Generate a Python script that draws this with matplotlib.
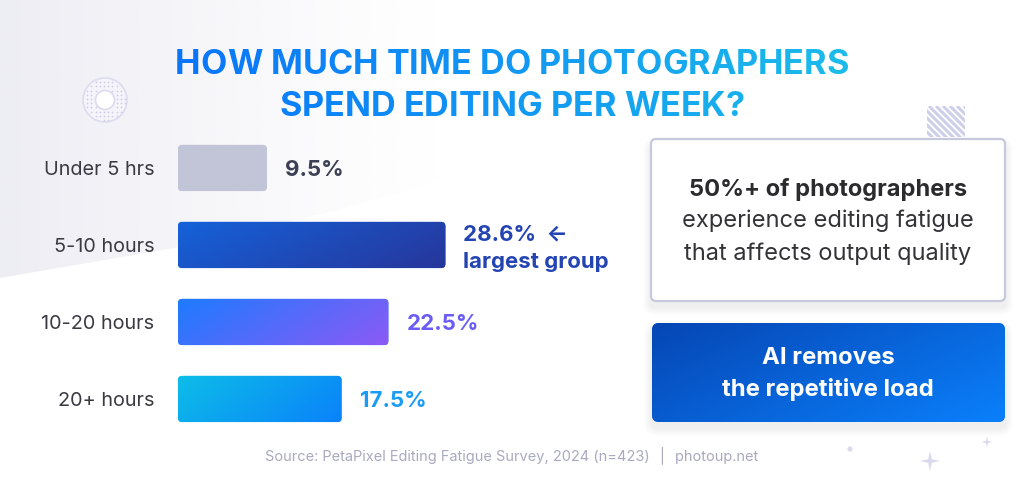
import numpy as np
import matplotlib
matplotlib.use("Agg")
import matplotlib.pyplot as plt
from matplotlib.patches import FancyBboxPatch, Polygon, Circle, Rectangle
from matplotlib.colors import to_rgb
from matplotlib.font_manager import FontProperties

plt.rcParams['font.family'] = ['Inter', 'DejaVu Sans']

# ---------------- data ----------------
categories = ["Under 5 hrs", "5-10 hours", "10-20 hours", "20+ hours"]
shares = [9.5, 28.6, 22.5, 17.5]
value_labels = ["9.5%", "28.6%  \u2190", "22.5%", "17.5%"]
title_lines = ["HOW MUCH TIME DO PHOTOGRAPHERS", "SPEND EDITING PER WEEK?"]
callout_bold = "50%+ of photographers"
callout_rest = ["experience editing fatigue", "that affects output quality"]
cta_lines = ["AI removes", "the repetitive load"]
source = "Source: PetaPixel Editing Fatigue Survey, 2024 (n=423)  \u2502  photoup.net"

# gradient colours per bar (top-left, bottom-right)
bar_colors = [("#c2c5d8", "#c2c5d8"), ("#1562da", "#27369a"),
              ("#1d7bff", "#8c5af5"), ("#0dbde8", "#0a82fa")]
label_colors = ["#3c4055", "#2444b2", "#6a5cf5", "#1a9cf2"]

W, H = 1024, 491
fig = plt.figure(figsize=(W / 100, H / 100), dpi=100)
fig.patch.set_facecolor("white")

# background axes in pixel units (y down)
bg = fig.add_axes([0, 0, 1, 1])
bg.set_xlim(0, W)
bg.set_ylim(H, 0)
bg.axis("off")


def grad_array(c1, c2, n=200, diag=0.35):
    u = np.linspace(0, 1, n)
    v = np.linspace(0, 1, n)
    U, V = np.meshgrid(u, v)
    t = np.clip((U + diag * V) / (1 + diag), 0, 1)
    a, b = np.array(to_rgb(c1)), np.array(to_rgb(c2))
    return a[None, None, :] * (1 - t[..., None]) + b[None, None, :] * t[..., None]


# ---------- soft background shape, upper left ----------
shape = Polygon([(0, 0), (640, 0), (430, 185), (330, 212), (180, 247), (0, 278)],
                closed=True, facecolor="none", edgecolor="none")
bg.add_patch(shape)
xs = np.linspace(0, 1, 300)
alpha_row = np.clip(1 - xs * 1.45, 0, 1) ** 1.2
img = np.ones((10, 300, 4))
img[..., :3] = to_rgb("#ededf4")
img[..., 3] = alpha_row[None, :]
im = bg.imshow(img, extent=(0, 640, 278, 0), aspect="auto", zorder=0)
im.set_clip_path(shape)

# ---------- decorations ----------
ring = Circle((105, 100), 22, facecolor="#f4f4fa", edgecolor="#dcdcee", lw=1.2, zorder=1)
bg.add_patch(ring)
bg.add_patch(Circle((105, 100), 9.5, facecolor="white", edgecolor="#dcdcee", lw=1.2, zorder=2))
gx, gy = np.meshgrid(np.arange(83, 128, 4.2), np.arange(78, 123, 4.2))
r = np.hypot(gx - 105, gy - 100)
m = (r < 20.5) & (r > 11.5)
bg.scatter(gx[m], gy[m], s=1.6, color="#cfcfe6", zorder=2, lw=0)

hatch_box = Rectangle((927, 106), 38, 31, facecolor="none", edgecolor="none")
bg.add_patch(hatch_box)
for k in range(-40, 50, 7):
    ln, = bg.plot([927 + k, 927 + k + 40], [106, 146], color="#cdd0e8", lw=2.2, zorder=1,
                  solid_capstyle="butt")
    ln.set_clip_path(hatch_box)


def star(cx, cy, ro, ri):
    pts = []
    for j in range(8):
        ang = np.pi / 2 + j * np.pi / 4
        rr = ro if j % 2 == 0 else ri
        pts.append((cx + rr * np.cos(ang), cy - rr * np.sin(ang)))
    return Polygon(pts, closed=True, facecolor="#d9daec", edgecolor="none", zorder=1)


bg.add_patch(star(930, 461, 10, 2.6))
bg.add_patch(star(987, 442, 5.5, 1.5))
bg.add_patch(Circle((850, 449), 2.6, facecolor="#d9daec", edgecolor="none", zorder=1))

# ---------- title with horizontal colour gradient ----------
renderer = fig.canvas.get_renderer()
tprop = FontProperties(family=["Inter", "DejaVu Sans"], weight="bold", size=24.6)
c_left, c_right = np.array(to_rgb("#0874fb")), np.array(to_rgb("#1bbbea"))
gx0, gx1 = 178, 848
for line, yc in zip(title_lines, [61, 103]):
    wtot = renderer.get_text_width_height_descent(line, tprop, ismath=False)[0]
    x0 = 512 - wtot / 2
    for i, ch in enumerate(line):
        if ch == " ":
            continue
        xi = x0 + renderer.get_text_width_height_descent(line[:i], tprop, ismath=False)[0] if i else x0
        wch = renderer.get_text_width_height_descent(ch, tprop, ismath=False)[0]
        t = np.clip((xi + wch / 2 - gx0) / (gx1 - gx0), 0, 1)
        col = c_left * (1 - t) + c_right * t
        bg.text(xi, yc, ch, fontproperties=tprop, color=col, ha="left", va="center_baseline",
                zorder=5)

# ---------- bar chart ----------
px_per_pct = 9.35
ax = fig.add_axes([178 / W, (H - 437.5) / H, 50 * px_per_pct / W, 308 / H])
ax.patch.set_alpha(0)
ax.set_xlim(0, 50)
ax.set_ylim(3.5, -0.5)
bars = ax.barh(range(len(categories)), shares, height=0.6, color="none")
ax.set_yticks(range(len(categories)))
ax.set_yticklabels(categories, fontsize=14.3, color="#3a3b42")
ax.tick_params(axis="y", length=0, pad=17)
ax.set_xticks([])
for s in ax.spines.values():
    s.set_visible(False)

aspect = (1 / 77) / (1 / px_per_pct)
for b, (c1, c2) in zip(bars, bar_colors):
    x, y, w, h = b.get_x(), b.get_y(), b.get_width(), b.get_height()
    patch = FancyBboxPatch((x, y), w, h, boxstyle="round,pad=0,rounding_size=0.45",
                           mutation_aspect=aspect, facecolor=c1, edgecolor="none", zorder=2)
    ax.add_patch(patch)
    gi = ax.imshow(grad_array(c1, c2), extent=(x, x + w, y + h, y), aspect="auto", zorder=3,
                   interpolation="bilinear")
    gi.set_clip_path(patch)
ax.set_xlim(0, 50)
ax.set_ylim(3.5, -0.5)

for i, (v, lab, col) in enumerate(zip(shares, value_labels, label_colors)):
    dy = 13 if i == 1 else 0
    ax.annotate(lab, (v, i), xytext=(18, dy), textcoords="offset pixels", ha="left",
                va="center_baseline", fontsize=16, fontweight="bold", color=col,
                family=["Inter", "DejaVu Sans"])
ax.annotate("largest group", (shares[1], 1), xytext=(18, -15), textcoords="offset pixels",
            ha="left", va="center_baseline", fontsize=16, fontweight="bold", color=label_colors[1])


# ---------- callout boxes ----------
def shadow(x, y, w, h, rad):
    for k in range(8):
        g = 2 + k * 2
        bg.add_patch(FancyBboxPatch((x - g / 2, y + 4 - g / 2 + 2), w + g, h + g,
                                    boxstyle=f"round,pad=0,rounding_size={rad + g / 2}",
                                    facecolor="#5a6090", edgecolor="none", alpha=0.012, zorder=1))


shadow(651, 139, 354, 162, 5)
box1 = FancyBboxPatch((651, 139), 354, 162, boxstyle="round,pad=0,rounding_size=5",
                      facecolor="white", edgecolor="#c6c9dd", lw=1.6, zorder=2)
bg.add_patch(box1)
bg.text(828, 187, callout_bold, ha="center", va="center_baseline", fontsize=17,
        fontweight="bold", color="#2b2b2e", zorder=4)
for txt, yy in zip(callout_rest, [218, 251]):
    bg.text(828, yy, txt, ha="center", va="center_baseline", fontsize=17, color="#333338",
            zorder=4)

shadow(652, 323, 353, 99, 7)
box2 = FancyBboxPatch((652, 323), 353, 99, boxstyle="round,pad=0,rounding_size=7",
                      facecolor="#0a60d8", edgecolor="none", zorder=2)
bg.add_patch(box2)
gi2 = bg.imshow(grad_array("#0646b4", "#0a80fb", diag=0.6), extent=(652, 1005, 422, 323),
                aspect="auto", zorder=3, interpolation="bilinear")
gi2.set_clip_path(box2)
for txt, yy in zip(cta_lines, [356, 387]):
    bg.text(828, yy, txt, ha="center", va="center_baseline", fontsize=17.2, fontweight="bold",
            color="white", zorder=4)

bg.set_xlim(0, W)
bg.set_ylim(H, 0)

# ---------- footer ----------
bg.text(512, 453, source, ha="center", va="center_baseline", fontsize=10.5, color="#a8abbf",
        zorder=4, family=["Inter", "DejaVu Sans"])

fig.savefig("out.png", dpi=100, facecolor="white")
